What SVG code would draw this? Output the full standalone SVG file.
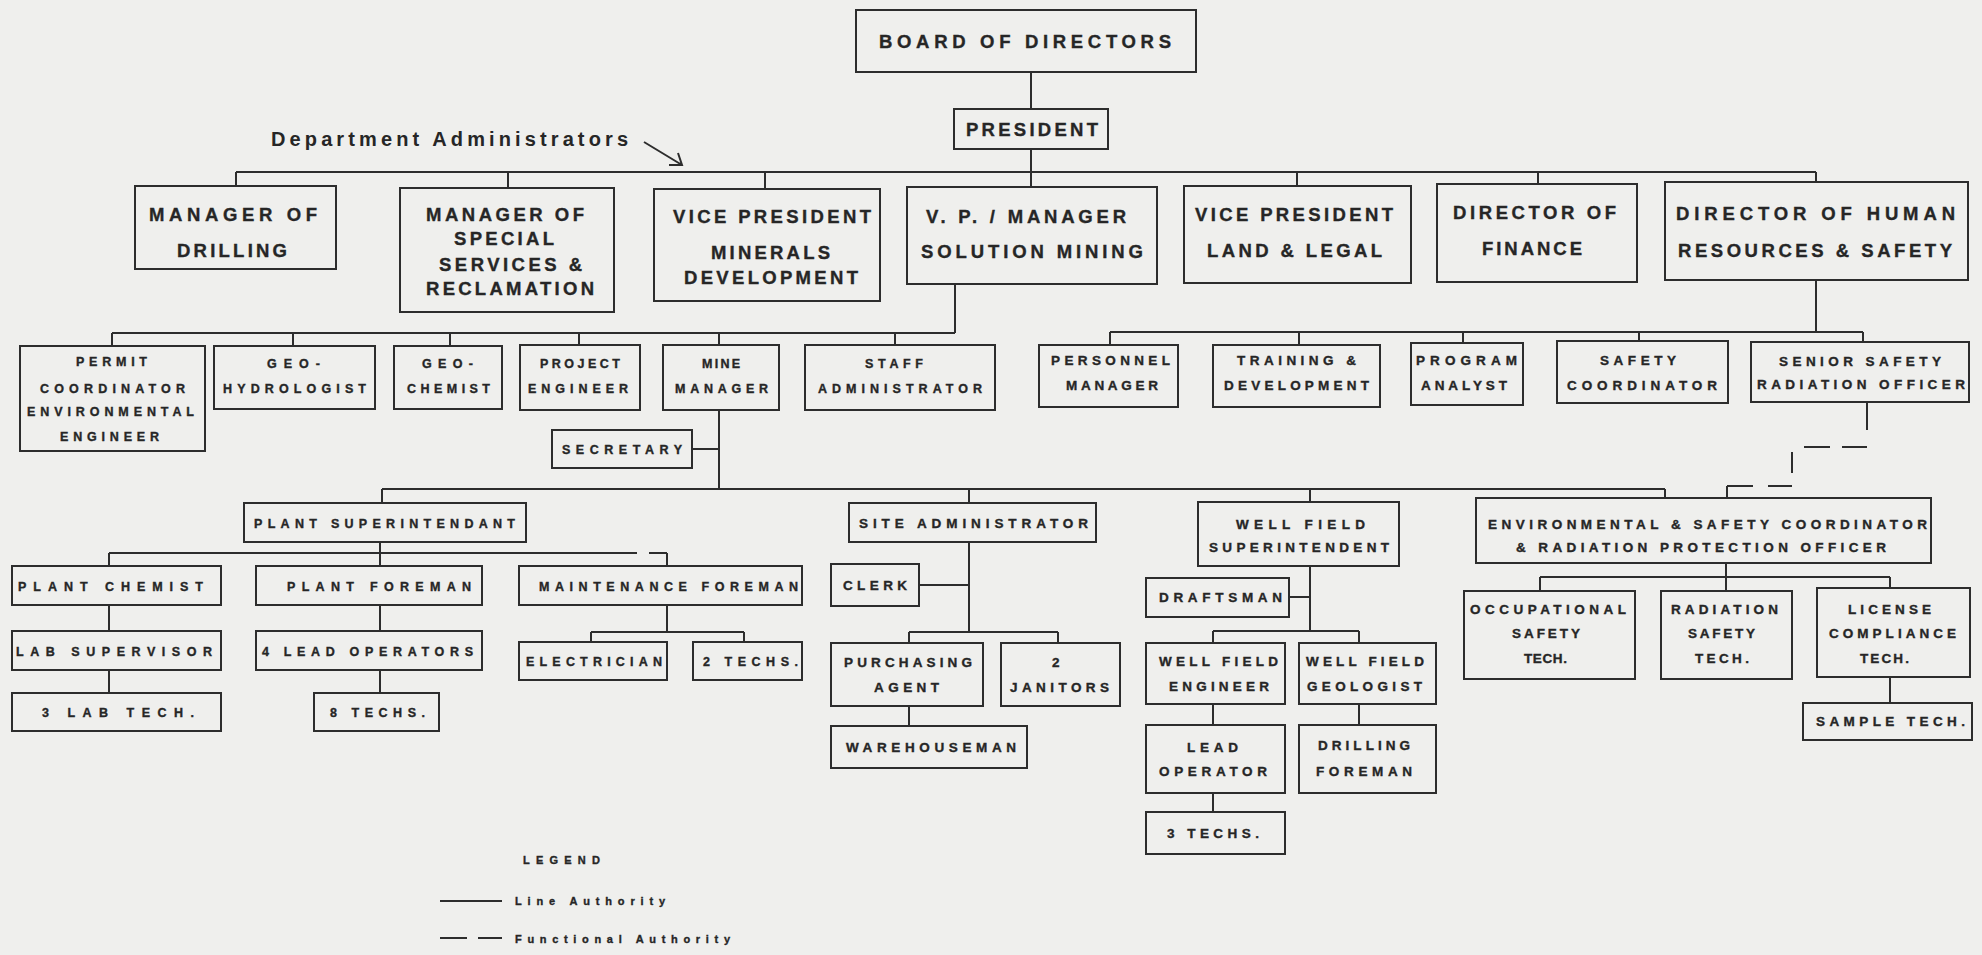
<svg xmlns="http://www.w3.org/2000/svg" width="1982" height="955" viewBox="0 0 1982 955">
<style>
.bx{fill:none;stroke:#2d2d2d;stroke-width:2}
.cn path{fill:none;stroke:#2d2d2d;stroke-width:2}
.fn{fill:none;stroke:#2d2d2d;stroke-width:2}
text{font-family:"Liberation Sans",Arial,sans-serif;font-weight:bold;fill:#262626;stroke:#262626;stroke-width:0.35}
.f18{font-size:18.5px}
.f12{font-size:12.5px}
.f13{font-size:13.5px}
.f11{font-size:11px}
.lab{font-size:20px;font-weight:bold;stroke-width:0}
</style>
<rect x="0" y="0" width="1982" height="955" fill="#efefed"/>

<g id="connectors" class="cn">
<path d="M1031 72V109M1031 149V187"/>
<path d="M236 172H1816M236 172V186M508 172V188M765 172V189M1297 172V186M1538 172V184M1816 172V182"/>
<path d="M955 284V333M112 333H955M112 333V346M293 333V346M450 333V346M579 333V345M719 333V345M895 333V345"/>
<path d="M1816 280V332M1110 332H1863M1110 332V345M1299 332V345M1463 332V343M1639 332V341M1863 332V342"/>
<path d="M719 410V489M692 449H719"/>
<path d="M382 489H1665M382 489V503M969 489V503M1310 489V502M1665 489V498"/>
<path d="M380 542V553M109 553H637M649 553H667M109 553V566M380 553V566M667 553V566M109 605V631M109 670V693M380 605V631M380 670V693M667 605V632M591 632H744M591 632V642M744 632V642"/>
<path d="M969 542V632M919 585H969M909 632H1058M909 632V643M1058 632V643M909 706V726"/>
<path d="M1310 566V631M1289 597H1310M1213 631H1359M1213 631V643M1359 631V643M1213 704V725M1213 793V812M1359 704V725"/>
<path d="M1726 563V577M1540 577H1890M1540 577V591M1726 577V591M1890 577V588M1890 677V703"/>
<path id="functional" d="M1867 402V430M1804 447H1830M1842 447H1867M1792 452V473M1727 486H1753M1768 486H1792M1727 486V498"/>
<path id="dept-arrow" d="M644 142L682 165M669 165H682L678 153"/>
</g>

<text class="lab" x="271" y="146" textLength="357">Department  Administrators</text>

<g id="board"><rect class="bx" x="856" y="10" width="340" height="62"/><text class="f18" x="879" y="48" textLength="292">BOARD OF DIRECTORS</text></g>
<g id="president"><rect class="bx" x="954" y="109" width="154" height="40"/><text class="f18" x="966" y="136" textLength="132">PRESIDENT</text></g>

<g id="mgr-drilling"><rect class="bx" x="135" y="186" width="201" height="83"/><text class="f18" x="149" y="221" textLength="168">MANAGER OF</text><text class="f18" x="177" y="257" textLength="110">DRILLING</text></g>
<g id="mgr-special"><rect class="bx" x="400" y="188" width="214" height="124"/><text class="f18" x="426" y="221" textLength="158">MANAGER OF</text><text class="f18" x="454" y="245" textLength="100">SPECIAL</text><text class="f18" x="439" y="271" textLength="143">SERVICES &amp;</text><text class="f18" x="426" y="295" textLength="168">RECLAMATION</text></g>
<g id="vp-minerals"><rect class="bx" x="654" y="189" width="226" height="112"/><text class="f18" x="673" y="223" textLength="198">VICE PRESIDENT</text><text class="f18" x="711" y="259" textLength="119">MINERALS</text><text class="f18" x="684" y="284" textLength="174">DEVELOPMENT</text></g>
<g id="vp-solution"><rect class="bx" x="907" y="187" width="250" height="97"/><text class="f18" x="926" y="223" textLength="200">V. P. / MANAGER</text><text class="f18" x="921" y="258" textLength="222">SOLUTION  MINING</text></g>
<g id="vp-land"><rect class="bx" x="1184" y="186" width="227" height="97"/><text class="f18" x="1195" y="221" textLength="198">VICE PRESIDENT</text><text class="f18" x="1207" y="257" textLength="175">LAND &amp; LEGAL</text></g>
<g id="dir-finance"><rect class="bx" x="1437" y="184" width="200" height="98"/><text class="f18" x="1453" y="219" textLength="163">DIRECTOR OF</text><text class="f18" x="1482" y="255" textLength="100">FINANCE</text></g>
<g id="dir-hr"><rect class="bx" x="1665" y="182" width="303" height="98"/><text class="f18" x="1676" y="220" textLength="279">DIRECTOR  OF  HUMAN</text><text class="f18" x="1678" y="257" textLength="274">RESOURCES &amp; SAFETY</text></g>

<g id="permit"><rect class="bx" x="20" y="346" width="185" height="105"/><text class="f12" x="76" y="366" textLength="71">PERMIT</text><text class="f12" x="40" y="393" textLength="145">COORDINATOR</text><text class="f12" x="27" y="416" textLength="167">ENVIRONMENTAL</text><text class="f12" x="60" y="441" textLength="99">ENGINEER</text></g>
<g id="geohydro"><rect class="bx" x="214" y="346" width="161" height="63"/><text class="f12" x="267" y="368" textLength="53">GEO-</text><text class="f12" x="223" y="393" textLength="143">HYDROLOGIST</text></g>
<g id="geochem"><rect class="bx" x="394" y="346" width="108" height="63"/><text class="f12" x="422" y="368" textLength="51">GEO-</text><text class="f12" x="407" y="393" textLength="83">CHEMIST</text></g>
<g id="project-eng"><rect class="bx" x="520" y="345" width="120" height="65"/><text class="f12" x="540" y="368" textLength="80">PROJECT</text><text class="f12" x="528" y="393" textLength="100">ENGINEER</text></g>
<g id="mine-mgr"><rect class="bx" x="663" y="345" width="116" height="65"/><text class="f12" x="702" y="368" textLength="38">MINE</text><text class="f12" x="675" y="393" textLength="93">MANAGER</text></g>
<g id="staff-admin"><rect class="bx" x="805" y="345" width="190" height="65"/><text class="f12" x="865" y="368" textLength="58">STAFF</text><text class="f12" x="818" y="393" textLength="164">ADMINISTRATOR</text></g>
<g id="secretary"><rect class="bx" x="552" y="430" width="140" height="38"/><text class="f12" x="562" y="454" textLength="120">SECRETARY</text></g>

<g id="personnel"><rect class="bx" x="1039" y="345" width="139" height="62"/><text class="f13" x="1051" y="365" textLength="119">PERSONNEL</text><text class="f13" x="1066" y="390" textLength="92">MANAGER</text></g>
<g id="training"><rect class="bx" x="1213" y="345" width="167" height="62"/><text class="f13" x="1237" y="365" textLength="119">TRAINING &amp;</text><text class="f13" x="1224" y="390" textLength="145">DEVELOPMENT</text></g>
<g id="program"><rect class="bx" x="1411" y="343" width="112" height="62"/><text class="f13" x="1416" y="365" textLength="101">PROGRAM</text><text class="f13" x="1421" y="390" textLength="86">ANALYST</text></g>
<g id="safety-coord"><rect class="bx" x="1557" y="341" width="171" height="62"/><text class="f13" x="1600" y="365" textLength="76">SAFETY</text><text class="f13" x="1567" y="390" textLength="150">COORDINATOR</text></g>
<g id="senior-safety"><rect class="bx" x="1751" y="342" width="218" height="60"/><text class="f13" x="1779" y="366" textLength="162">SENIOR SAFETY</text><text class="f13" x="1757" y="389" textLength="208">RADIATION OFFICER</text></g>

<g id="plant-sup"><rect class="bx" x="244" y="503" width="282" height="39"/><text class="f12" x="254" y="528" textLength="261">PLANT  SUPERINTENDANT</text></g>
<g id="plant-chemist"><rect class="bx" x="12" y="566" width="209" height="39"/><text class="f12" x="18" y="591" textLength="185">PLANT  CHEMIST</text></g>
<g id="plant-foreman"><rect class="bx" x="256" y="566" width="226" height="39"/><text class="f12" x="287" y="591" textLength="184">PLANT  FOREMAN</text></g>
<g id="maint-foreman"><rect class="bx" x="519" y="566" width="283" height="39"/><text class="f12" x="539" y="591" textLength="259">MAINTENANCE FOREMAN</text></g>
<g id="lab-sup"><rect class="bx" x="12" y="631" width="209" height="39"/><text class="f12" x="16" y="656" textLength="196">LAB  SUPERVISOR</text></g>
<g id="lead-ops"><rect class="bx" x="256" y="631" width="226" height="39"/><text class="f12" x="262" y="656" textLength="211">4 LEAD OPERATORS</text></g>
<g id="electrician"><rect class="bx" x="519" y="642" width="148" height="38"/><text class="f12" x="526" y="666" textLength="136">ELECTRICIAN</text></g>
<g id="two-techs"><rect class="bx" x="693" y="642" width="109" height="38"/><text class="f12" x="703" y="666" textLength="95">2 TECHS.</text></g>
<g id="lab-tech"><rect class="bx" x="12" y="693" width="209" height="38"/><text class="f12" x="42" y="717" textLength="152">3  LAB  TECH.</text></g>
<g id="eight-techs"><rect class="bx" x="314" y="693" width="125" height="38"/><text class="f12" x="330" y="717" textLength="95">8 TECHS.</text></g>

<g id="site-admin"><rect class="bx" x="849" y="503" width="247" height="39"/><text class="f13" x="859" y="528" textLength="229">SITE  ADMINISTRATOR</text></g>
<g id="clerk"><rect class="bx" x="831" y="564" width="88" height="42"/><text class="f13" x="843" y="590" textLength="64">CLERK</text></g>
<g id="purchasing"><rect class="bx" x="831" y="643" width="152" height="63"/><text class="f13" x="844" y="667" textLength="128">PURCHASING</text><text class="f13" x="874" y="692" textLength="65">AGENT</text></g>
<g id="janitors"><rect class="bx" x="1001" y="643" width="119" height="63"/><text class="f13" x="1052" y="667">2</text><text class="f13" x="1010" y="692" textLength="99">JANITORS</text></g>
<g id="warehouseman"><rect class="bx" x="831" y="726" width="196" height="42"/><text class="f13" x="846" y="752" textLength="170">WAREHOUSEMAN</text></g>

<g id="wf-sup"><rect class="bx" x="1198" y="502" width="201" height="64"/><text class="f13" x="1236" y="529" textLength="129">WELL  FIELD</text><text class="f13" x="1209" y="552" textLength="180">SUPERINTENDENT</text></g>
<g id="draftsman"><rect class="bx" x="1146" y="578" width="143" height="39"/><text class="f13" x="1159" y="602" textLength="123">DRAFTSMAN</text></g>
<g id="wf-eng"><rect class="bx" x="1146" y="643" width="139" height="61"/><text class="f13" x="1159" y="666" textLength="119">WELL FIELD</text><text class="f13" x="1169" y="691" textLength="100">ENGINEER</text></g>
<g id="wf-geo"><rect class="bx" x="1299" y="643" width="137" height="61"/><text class="f13" x="1306" y="666" textLength="118">WELL FIELD</text><text class="f13" x="1307" y="691" textLength="115">GEOLOGIST</text></g>
<g id="lead-op"><rect class="bx" x="1146" y="725" width="139" height="68"/><text class="f13" x="1187" y="752" textLength="51">LEAD</text><text class="f13" x="1159" y="776" textLength="108">OPERATOR</text></g>
<g id="drill-foreman"><rect class="bx" x="1299" y="725" width="137" height="68"/><text class="f13" x="1318" y="750" textLength="92">DRILLING</text><text class="f13" x="1316" y="776" textLength="96">FOREMAN</text></g>
<g id="three-techs"><rect class="bx" x="1146" y="812" width="139" height="42"/><text class="f13" x="1167" y="838" textLength="92">3 TECHS.</text></g>

<g id="env-safety"><rect class="bx" x="1476" y="498" width="455" height="65"/><text class="f13" x="1488" y="529" textLength="439">ENVIRONMENTAL &amp; SAFETY COORDINATOR</text><text class="f13" x="1516" y="552" textLength="370">&amp; RADIATION PROTECTION OFFICER</text></g>
<g id="occ-safety"><rect class="bx" x="1464" y="591" width="171" height="88"/><text class="f13" x="1470" y="614" textLength="156">OCCUPATIONAL</text><text class="f13" x="1512" y="638" textLength="68">SAFETY</text><text class="f13" x="1524" y="663" textLength="43">TECH.</text></g>
<g id="rad-safety"><rect class="bx" x="1661" y="591" width="131" height="88"/><text class="f13" x="1671" y="614" textLength="107">RADIATION</text><text class="f13" x="1688" y="638" textLength="67">SAFETY</text><text class="f13" x="1695" y="663" textLength="54">TECH.</text></g>
<g id="license"><rect class="bx" x="1817" y="588" width="153" height="89"/><text class="f13" x="1848" y="614" textLength="83">LICENSE</text><text class="f13" x="1829" y="638" textLength="127">COMPLIANCE</text><text class="f13" x="1860" y="663" textLength="49">TECH.</text></g>
<g id="sample-tech"><rect class="bx" x="1803" y="703" width="169" height="37"/><text class="f13" x="1816" y="726" textLength="149">SAMPLE TECH.</text></g>

<g id="legend">
<text class="f11" x="523" y="864" textLength="77">LEGEND</text>
<path class="fn" d="M440 901H502"/>
<text class="f11" x="515" y="905" textLength="150">Line  Authority</text>
<path class="fn" d="M440 938H467M478 938H502"/>
<text class="f11" x="515" y="943" textLength="215">Functional  Authority</text>
</g>
</svg>
